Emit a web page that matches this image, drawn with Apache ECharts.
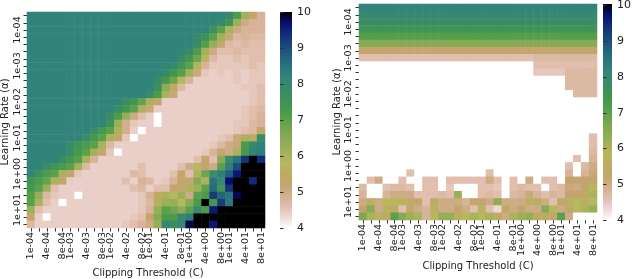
<!DOCTYPE html>
<html><head><meta charset="utf-8">
<script src="https://cdn.jsdelivr.net/npm/echarts@6/dist/echarts.min.js"></script>
<style>html,body{margin:0;padding:0;background:#fff}#c{width:640px;height:279px}</style>
</head><body><div id="c"></div>
<script>
const FONT = 'DejaVu Sans';
const xLabels = ['1e-04','2e-04','4e-04','6e-04','8e-04','1e-03','2e-03','4e-03','6e-03','8e-03','1e-02','2e-02','4e-02','6e-02','8e-02','1e-01','2e-01','4e-01','6e-01','8e-01','1e+00','2e+00','4e+00','6e+00','8e+00','1e+01','2e+01','4e+01','6e+01','8e+01'];
const yLabels = ['6e-05','8e-05','1e-04','2e-04','4e-04','6e-04','8e-04','1e-03','2e-03','4e-03','6e-03','8e-03','1e-02','2e-02','4e-02','6e-02','8e-02','1e-01','2e-01','4e-01','6e-01','8e-01','1e+00','2e+00','4e+00','6e+00','8e+00','1e+01','2e+01','4e+01'];
const colorbarTicks = [4,5,6,7,8,9,10];

// left panel: rows top->bottom, columns left->right
const leftGrid = [
[8.2,8.2,8.2,8.2,8.2, 8.2,8.2,8.2,8.2,8.2, 8.2,8.2,8.2,8.2,8.2, 8.2,8.2,8.2,8.2,8.2, 8.2,8.2,8.2,8.2,8.2, 7.95,7.2,6.1,5.3,4.8],
[8.2,8.2,8.2,8.2,8.2, 8.2,8.2,8.2,8.2,8.2, 8.2,8.2,8.2,8.2,8.2, 8.2,8.2,8.2,8.2,8.2, 8.2,8.2,8.2,8.2,7.9, 7.4,6.2,5.0,4.8,4.8],
[8.2,8.2,8.2,8.2,8.2, 8.2,8.2,8.2,8.2,8.2, 8.2,8.2,8.2,8.2,8.2, 8.2,8.2,8.2,8.2,8.2, 8.2,8.2,8.2,7.6,7.0, 6.0,5.0,4.8,4.8,4.8],
[8.2,8.2,8.2,8.2,8.2, 8.2,8.2,8.2,8.2,8.2, 8.2,8.2,8.2,8.2,8.2, 8.2,8.2,8.2,8.2,8.2, 8.2,7.9,7.6,7.0,6.1, 5.1,4.7,4.8,4.7,4.7],
[8.2,8.2,8.2,8.2,8.2, 8.2,8.2,8.2,8.2,8.2, 8.2,8.2,8.2,8.2,8.2, 8.2,8.2,8.2,8.2,8.2, 8.2,7.9,7.1,6.3,5.3, 4.7,4.6,4.7,4.6,4.6],
[8.2,8.2,8.2,8.2,8.2, 8.2,8.2,8.2,8.2,8.2, 8.2,8.2,8.2,8.2,8.2, 8.2,8.2,8.2,8.2,8.2, 7.9,7.2,6.1,5.0,4.6, 4.6,4.7,4.6,4.6,4.6],
[8.2,8.2,8.2,8.2,8.2, 8.2,8.2,8.2,8.2,8.2, 8.2,8.2,8.2,8.2,8.2, 8.2,8.2,8.2,8.2,7.9, 7.4,6.8,5.7,4.7,4.5, 4.5,4.6,4.5,4.6,4.6],
[8.2,8.2,8.2,8.2,8.2, 8.2,8.2,8.2,8.2,8.2, 8.2,8.2,8.2,8.2,8.2, 8.2,8.2,8.2,7.9,7.5, 7.0,5.9,4.8,4.5,4.5, 4.5,4.5,4.5,4.6,4.5],
[8.2,8.2,8.2,8.2,8.2, 8.2,8.2,8.2,8.2,8.2, 8.2,8.2,8.2,8.2,8.2, 8.2,8.2,7.9,7.4,7.1, 6.1,5.1,4.5,4.4,4.5, 4.4,4.5,4.4,4.5,4.5],
[8.2,8.2,8.2,8.2,8.2, 8.2,8.2,8.2,8.2,8.2, 8.2,8.2,8.2,8.2,8.2, 8.2,7.9,7.3,6.8,5.8, 4.8,4.4,4.4,4.4,4.4, 4.4,4.5,4.4,4.5,4.5],
[8.2,8.2,8.2,8.2,8.2, 8.2,8.2,8.2,8.2,8.2, 8.2,8.2,8.2,8.2,8.2, 8.2,7.7,6.4,5.5,4.7, 4.4,4.4,4.4,4.4,4.4, 4.4,4.4,4.5,4.5,4.6],
[8.2,8.2,8.2,8.2,8.2, 8.2,8.2,8.2,8.2,8.2, 8.2,8.2,8.2,8.2,8.2, 7.8,7.2,6.0,5.1,4.4, 4.4,4.4,4.4,4.4,4.4, 4.4,4.4,4.4,4.5,4.6],
[8.2,8.2,8.2,8.2,8.2, 8.2,8.2,8.2,8.2,8.2, 8.2,8.2,7.8,7.4,6.9, 6.0,5.2,4.4,4.4,4.4, 4.4,4.4,4.4,4.4,4.4, 4.4,4.4,4.4,4.5,4.6],
[8.2,8.2,8.2,8.2,8.2, 8.2,8.2,8.2,8.2,8.2, 8.2,7.8,7.4,7.0,6.0, 5.1,4.4,4.4,4.4,4.4, 4.4,4.4,4.4,4.4,4.4, 4.4,4.4,4.5,4.6,4.7],
[8.2,8.2,8.2,8.2,8.2, 8.2,8.2,8.2,8.2,8.2, 7.8,7.2,6.3,5.0,4.6, 4.4,4.0,4.4,4.4,4.4, 4.4,4.4,4.4,4.4,4.4, 4.4,4.4,4.5,4.6,4.8],
[8.2,8.2,8.2,8.2,8.2, 8.2,8.2,8.2,8.2,8.2, 7.6,6.2,4.9,4.5,4.4, 4.4,4.0,4.4,4.4,4.4, 4.4,4.4,4.4,4.4,4.4, 4.4,4.5,4.5,4.7,4.8],
[8.2,8.2,8.2,8.2,8.2, 8.2,8.2,8.2,7.8,7.3, 7.0,6.0,4.9,4.4,4.0, 4.4,4.4,4.4,4.4,4.4, 4.4,4.4,4.4,4.4,4.4, 4.4,4.5,4.6,4.7,5.3],
[8.2,8.2,8.2,8.2,8.2, 8.2,8.2,7.8,7.3,7.0, 6.0,5.2,4.5,4.0,4.4, 4.4,4.4,4.4,4.4,4.4, 4.4,4.4,4.4,4.4,4.5, 4.6,5.1,6.0,5.4,7.8],
[8.2,8.2,8.2,8.2,8.2, 7.8,7.5,7.2,7.0,6.0, 4.7,4.4,4.4,4.4,4.4, 4.4,4.4,4.4,4.4,4.4, 4.4,4.4,4.4,4.5,4.7, 5.0,5.1,7.2,8.0,8.2],
[8.2,8.2,8.2,8.2,8.2, 7.8,7.3,7.0,6.1,5.2, 4.5,4.0,4.4,4.4,4.4, 4.4,4.4,4.4,4.4,4.4, 4.4,4.4,4.5,4.8,5.2, 5.0,6.0,7.3,8.2,8.3],
[8.2,8.2,8.2,8.2,7.8, 7.4,7.1,6.0,4.8,4.4, 4.4,4.4,4.4,4.4,4.4, 4.4,4.4,4.4,4.4,4.4, 4.4,4.6,5.2,4.6,6.5, 7.8,8.5,9.3,10,9.4],
[8.2,8.2,7.8,7.5,7.2, 7.0,6.1,4.7,4.4,4.4, 4.4,4.4,4.4,4.4,4.6, 4.4,4.4,4.4,4.4,4.6, 5.0,5.8,5.2,5.0,7.0, 8.3,9.0,10,10,10],
[8.1,7.6,7.2,7.0,6.0, 5.2,4.5,4.4,4.4,4.4, 4.4,4.4,4.4,4.7,4.6, 4.4,4.4,4.4,4.6,5.2, 4.6,6.0,6.8,7.8,8.3, 8.8,9.6,10,10,10],
[7.5,7.2,6.9,6.0,5.2, 4.4,4.4,4.4,4.4,4.4, 4.4,4.4,4.6,4.4,4.8, 4.7,4.4,4.5,4.8,5.3, 5.2,6.5,6.0,8.5,8.0, 9.7,10,10,9.4,10],
[7.3,7.0,6.2,4.6,4.4, 4.4,4.4,4.4,4.4,4.4, 4.4,4.4,4.4,4.6,4.7, 4.4,4.6,4.6,5.3,5.2, 6.0,6.2,7.0,8.6,7.5, 9.3,10,10,10,10],
[7.1,6.3,4.7,4.5,4.4, 4.4,4.0,4.4,4.4,4.4, 4.4,4.4,4.4,4.4,4.5, 4.8,5.4,6.0,5.8,6.2, 5.0,7.0,7.2,9.2,8.7, 8.5,9.8,10,10,10],
[7.0,6.0,4.6,4.4,4.0, 4.4,4.4,4.4,4.4,4.4, 4.4,4.4,4.4,4.4,4.5, 4.7,5.6,6.2,6.3,5.8, 6.5,7.2,10,7.4,9.2, 8.4,10,10,10,10],
[6.2,4.6,4.4,4.4,4.4, 4.4,4.4,4.4,4.4,4.4, 4.4,4.4,4.4,4.4,4.5, 4.8,6.3,7.0,6.8,6.4, 7.0,8.0,7.2,9.6,10, 10,10,10,10,10],
[5.3,4.4,4.0,4.4,4.4, 4.4,4.4,4.4,4.4,4.4, 4.4,4.4,4.4,4.5,4.6, 5.2,6.5,7.2,7.2,8.0, 8.3,10,10,10,10, 10,10,10,10,10],
[4.7,4.4,4.4,4.4,4.4, 4.4,4.4,4.4,4.4,4.4, 4.4,4.4,4.5,4.6,4.8, 5.0,6.3,8.0,7.8,8.0, 9.8,10,10,9.6,10, 10,10,10,10,10]
];

// right panel
const rightGrid = [
[8.2,8.2,8.2,8.2,8.2, 8.2,8.2,8.2,8.2,8.2, 8.2,8.2,8.2,8.2,8.2, 8.2,8.2,8.2,8.2,8.2, 8.2,8.2,8.2,8.2,8.2, 8.2,8.2,8.2,8.2,8.2],
[8.0,8.0,8.0,8.0,8.0, 8.0,8.0,8.0,8.0,8.0, 8.0,8.0,8.0,8.0,8.0, 8.0,8.0,8.0,8.0,8.0, 8.0,8.0,8.0,8.0,8.0, 8.0,8.0,8.0,8.0,8.0],
[7.8,7.8,7.8,7.8,7.8, 7.8,7.8,7.8,7.8,7.8, 7.8,7.8,7.8,7.8,7.8, 7.8,7.8,7.8,7.8,7.8, 7.8,7.8,7.8,7.8,7.8, 7.8,7.8,7.8,7.8,7.8],
[7.5,7.5,7.5,7.5,7.5, 7.5,7.5,7.5,7.5,7.5, 7.5,7.5,7.5,7.5,7.5, 7.5,7.5,7.5,7.5,7.5, 7.5,7.5,7.5,7.5,7.5, 7.5,7.5,7.5,7.5,7.5],
[7.1,7.1,7.1,7.1,7.1, 7.1,7.1,7.1,7.1,7.1, 7.1,7.1,7.1,7.1,7.1, 7.1,7.1,7.1,7.1,7.1, 7.1,7.1,7.1,7.1,7.1, 7.1,7.1,7.1,7.1,7.1],
[6.5,6.5,6.5,6.5,6.5, 6.5,6.5,6.5,6.5,6.5, 6.5,6.5,6.5,6.5,6.5, 6.5,6.5,6.5,6.5,6.5, 6.5,6.5,6.5,6.5,6.5, 6.5,6.5,6.5,6.5,6.5],
[5.2,5.2,5.2,5.2,5.2, 5.2,5.2,5.2,5.2,5.2, 5.2,5.2,5.2,5.2,5.2, 5.2,5.2,5.2,5.2,5.2, 5.2,5.2,5.2,5.2,5.2, 5.2,5.2,5.2,5.2,5.3],
[4.6,4.6,4.6,4.6,4.6, 4.6,4.6,4.6,4.6,4.6, 4.6,4.6,4.6,4.6,4.6, 4.6,4.6,4.6,4.6,4.6, 4.6,4.6,4.7,4.7,4.7, 4.7,4.7,4.7,4.7,4.7],
[4.0,4.0,4.0,4.0,4.0, 4.0,4.0,4.0,4.0,4.0, 4.0,4.0,4.0,4.0,4.0, 4.0,4.0,4.0,4.0,4.0, 4.0,4.0,4.6,4.6,4.6, 4.6,4.6,4.6,4.6,4.6],
[4.0,4.0,4.0,4.0,4.0, 4.0,4.0,4.0,4.0,4.0, 4.0,4.0,4.0,4.0,4.0, 4.0,4.0,4.0,4.0,4.0, 4.0,4.0,4.5,4.5,4.5, 4.5,4.7,4.7,4.7,4.7],
[4.0,4.0,4.0,4.0,4.0, 4.0,4.0,4.0,4.0,4.0, 4.0,4.0,4.0,4.0,4.0, 4.0,4.0,4.0,4.0,4.0, 4.0,4.0,4.0,4.0,4.0, 4.0,4.7,4.7,4.7,4.7],
[4.0,4.0,4.0,4.0,4.0, 4.0,4.0,4.0,4.0,4.0, 4.0,4.0,4.0,4.0,4.0, 4.0,4.0,4.0,4.0,4.0, 4.0,4.0,4.0,4.0,4.0, 4.0,4.7,4.7,4.7,4.7],
[4.0,4.0,4.0,4.0,4.0, 4.0,4.0,4.0,4.0,4.0, 4.0,4.0,4.0,4.0,4.0, 4.0,4.0,4.0,4.0,4.0, 4.0,4.0,4.0,4.0,4.0, 4.0,4.0,4.7,4.7,4.7],
[4.0,4.0,4.0,4.0,4.0, 4.0,4.0,4.0,4.0,4.0, 4.0,4.0,4.0,4.0,4.0, 4.0,4.0,4.0,4.0,4.0, 4.0,4.0,4.0,4.0,4.0, 4.0,4.0,4.0,4.0,4.0],
[4.0,4.0,4.0,4.0,4.0, 4.0,4.0,4.0,4.0,4.0, 4.0,4.0,4.0,4.0,4.0, 4.0,4.0,4.0,4.0,4.0, 4.0,4.0,4.0,4.0,4.0, 4.0,4.0,4.0,4.0,4.0],
[4.0,4.0,4.0,4.0,4.0, 4.0,4.0,4.0,4.0,4.0, 4.0,4.0,4.0,4.0,4.0, 4.0,4.0,4.0,4.0,4.0, 4.0,4.0,4.0,4.0,4.0, 4.0,4.0,4.0,4.0,4.0],
[4.0,4.0,4.0,4.0,4.0, 4.0,4.0,4.0,4.0,4.0, 4.0,4.0,4.0,4.0,4.0, 4.0,4.0,4.0,4.0,4.0, 4.0,4.0,4.0,4.0,4.0, 4.0,4.0,4.0,4.0,4.0],
[4.0,4.0,4.0,4.0,4.0, 4.0,4.0,4.0,4.0,4.0, 4.0,4.0,4.0,4.0,4.0, 4.0,4.0,4.0,4.0,4.0, 4.0,4.0,4.0,4.0,4.0, 4.0,4.0,4.0,4.0,4.0],
[4.0,4.0,4.0,4.0,4.0, 4.0,4.0,4.0,4.0,4.0, 4.0,4.0,4.0,4.0,4.0, 4.0,4.0,4.0,4.0,4.0, 4.0,4.0,4.0,4.0,4.0, 4.0,4.0,4.0,4.0,4.6],
[4.0,4.0,4.0,4.0,4.0, 4.0,4.0,4.0,4.0,4.0, 4.0,4.0,4.0,4.0,4.0, 4.0,4.0,4.0,4.0,4.0, 4.0,4.0,4.0,4.0,4.0, 4.0,4.0,4.0,4.0,4.6],
[4.0,4.0,4.0,4.0,4.0, 4.0,4.0,4.0,4.0,4.0, 4.0,4.0,4.0,4.0,4.0, 4.0,4.0,4.0,4.0,4.0, 4.0,4.0,4.0,4.0,4.0, 4.0,4.0,4.0,4.0,4.7],
[4.0,4.0,4.0,4.0,4.0, 4.0,4.0,4.0,4.0,4.0, 4.0,4.0,4.0,4.0,4.0, 4.0,4.0,4.0,4.0,4.0, 4.0,4.0,4.0,4.0,4.0, 4.0,4.0,4.6,4.0,4.8],
[4.0,4.0,4.0,4.0,4.0, 4.0,4.0,4.0,4.0,4.0, 4.0,4.0,4.0,4.0,4.0, 4.0,4.0,4.0,4.0,4.0, 4.0,4.0,4.0,4.0,4.0, 4.0,4.6,4.0,4.7,5.0],
[4.0,4.0,4.0,4.0,4.0, 4.0,4.6,4.0,4.0,4.0, 4.0,4.0,4.0,4.0,4.0, 4.0,4.6,4.0,4.0,4.0, 4.0,4.0,4.0,4.0,4.0, 4.0,4.8,4.0,4.8,5.1],
[4.0,4.6,5.0,4.0,4.0, 4.6,4.0,4.0,4.6,4.6, 4.0,4.6,4.6,4.6,4.6, 4.6,5.0,4.6,4.0,4.6, 4.0,5.0,4.0,4.6,4.6, 4.0,5.2,5.2,5.2,5.3],
[4.7,4.0,4.0,4.6,4.7, 4.7,4.6,4.0,4.6,4.6, 4.0,4.5,4.0,4.0,4.0, 4.6,4.6,4.5,4.0,4.6, 4.7,4.6,4.6,4.0,4.6, 4.7,5.1,5.0,5.2,5.8],
[4.8,4.0,4.0,4.8,5.0, 5.0,5.0,4.6,4.6,4.6, 4.7,4.6,6.2,4.0,4.0, 4.6,4.7,4.6,4.0,4.7, 4.8,5.1,4.8,4.6,4.8, 4.7,5.2,5.3,5.4,6.0],
[5.0,5.6,5.0,5.8,5.8, 5.6,5.3,5.2,4.6,5.4, 5.0,5.0,5.0,4.8,5.2, 5.2,5.0,6.4,5.0,5.0, 5.0,5.6,5.5,5.0,4.6, 5.3,5.6,5.8,5.6,5.8],
[5.2,6.5,5.0,5.6,5.5, 4.6,5.3,5.0,4.8,5.6, 5.0,5.0,5.3,5.0,4.6, 5.6,4.6,4.3,5.5,5.0, 5.2,5.0,5.0,6.5,5.8, 5.0,5.2,5.8,6.0,6.3],
[6.6,6.0,5.6,5.5,7.0, 6.5,6.2,6.0,4.8,5.8, 6.3,6.3,5.6,5.8,6.0, 5.8,6.0,5.4,5.0,6.0, 6.2,6.3,5.4,5.5,5.2, 7.0,5.0,4.0,4.0,4.0]
];

// gist_earth_r colour stops, value 4 -> 10
const cmap = ['#ffffff','#efd8d5','#e1beae','#d2af8e','#c4a46f','#bdab62','#b7b75e','#a3b15a','#8eac56','#79a652','#5da04b','#44994b','#3e915b','#388a6b','#32837a','#2a737e','#225e7c','#1a4679','#112b77','#080d75','#000000'];

function toCells(grid){const out=[];grid.forEach((row,r)=>row.forEach((v,c)=>out.push([c,r,v])));return out;}
const gradStops = cmap.map((c,i)=>({offset:1-i/(cmap.length-1),color:c})).reverse();

const tickStyle = {show:true,interval:0,alignWithLabel:true,length:3.5,lineStyle:{color:'#333',width:1}};
const lblBase = {fontFamily:FONT,fontSize:9.5,color:'#222'};
function xAx(g){return {type:'category',gridIndex:g,data:xLabels,axisLine:{show:false},axisTick:tickStyle,splitLine:{show:false},
  axisLabel:Object.assign({rotate:90,margin:4,interval:(i,v)=>/^[148]e/.test(v)},lblBase)};}
function yAx(g,m){return {type:'category',gridIndex:g,data:yLabels,inverse:true,axisLine:{show:false},axisTick:tickStyle,splitLine:{show:false},
  axisLabel:Object.assign({rotate:90,margin:m,interval:(i,v)=>v.startsWith('1e')},lblBase)};}
function cbX(g){return {type:'value',gridIndex:g,show:false,min:0,max:1};}
function cbY(g){return {type:'value',gridIndex:g,min:4,max:10,interval:1,position:'right',axisLine:{show:false},
  axisTick:{show:true,length:3.5,lineStyle:{color:'#333'}},splitLine:{show:false},
  axisLabel:{fontFamily:FONT,fontSize:11,color:'#222',margin:5}};}
const titleFont = '10px "DejaVu Sans"';
function txt(x,y,s,rot){return {type:'text',x:x,y:y,rotation:rot||0,style:{text:s,font:titleFont,fill:'#222',align:'center',verticalAlign:'middle',textAlign:'center',textVerticalAlign:'middle'}};}

const chart = echarts.init(document.getElementById('c'),null,{renderer:'canvas'});
chart.setOption({
  animation:false,
  backgroundColor:'#fff',
  grid:[
    {left:27,top:12,width:238,height:216},
    {left:359,top:4,width:238,height:216},
    {left:280,top:12,width:12,height:216},
    {left:603,top:4,width:9,height:216}
  ],
  xAxis:[xAx(0),xAx(1),cbX(2),cbX(3)],
  yAxis:[yAx(0,4),yAx(1,5),cbY(2),cbY(3)],
  visualMap:[
    {type:'continuous',show:false,min:4,max:10,seriesIndex:0,inRange:{color:cmap}},
    {type:'continuous',show:false,min:4,max:10,seriesIndex:1,inRange:{color:cmap}}
  ],
  series:[
    {type:'heatmap',xAxisIndex:0,yAxisIndex:0,data:toCells(leftGrid),emphasis:{disabled:true},progressive:0},
    {type:'heatmap',xAxisIndex:1,yAxisIndex:1,data:toCells(rightGrid),emphasis:{disabled:true},progressive:0},
    {type:'scatter',xAxisIndex:2,yAxisIndex:2,data:[]},
    {type:'scatter',xAxisIndex:3,yAxisIndex:3,data:[]}
  ],
  graphic:[
    {type:'rect',shape:{x:280,y:12,width:12,height:216},style:{fill:new echarts.graphic.LinearGradient(0,0,0,1,gradStops)},z:0},
    {type:'rect',shape:{x:603,y:4,width:9,height:216},style:{fill:new echarts.graphic.LinearGradient(0,0,0,1,gradStops)},z:0},
    txt(148,273,'Clipping Threshold (C)'),
    txt(478,266,'Clipping Threshold (C)'),
    txt(5,122,'Learning Rate (α)',Math.PI/2),
    txt(337,112,'Learning Rate (α)',Math.PI/2)
  ]
});
</script></body></html>
